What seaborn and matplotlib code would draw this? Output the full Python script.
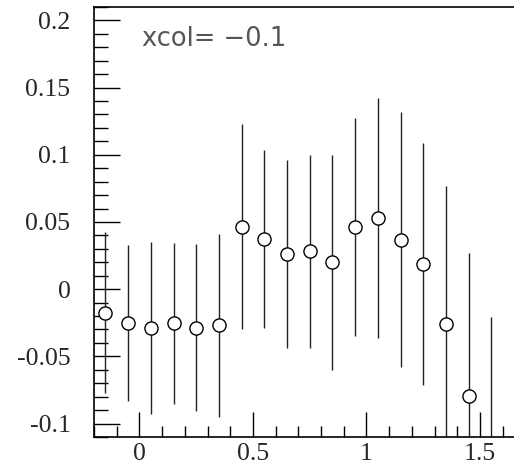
import matplotlib
matplotlib.use("Agg")
import matplotlib.pyplot as plt
import matplotlib.ticker as mticker
import seaborn as sns
import pandas as pd

# bin centres, values and errors
xcenters = [-0.15, -0.05, 0.05, 0.15, 0.25, 0.35, 0.45, 0.55, 0.65,
            0.75, 0.85, 0.95, 1.05, 1.15, 1.25, 1.35, 1.45, 1.55]
values = [-0.0175, -0.025, -0.029, -0.0254, -0.0287, -0.027, 0.0466, 0.0374, 0.0262,
          0.0282, 0.020, 0.0462, 0.0531, 0.0369, 0.0187, -0.0257, -0.0798, -0.13]
errors = [0.060, 0.058, 0.064, 0.060, 0.062, 0.068, 0.076, 0.066, 0.070,
          0.072, 0.080, 0.081, 0.0895, 0.095, 0.090, 0.1025, 0.107, 0.109]
label = "xcol= \u22120.1"

df = pd.DataFrame({"x": xcenters, "y": values, "err": errors})

sns.set_style("ticks")
plt.rcParams["font.family"] = ["Liberation Serif", "DejaVu Serif"]
plt.rcParams["axes.unicode_minus"] = False

fig = plt.figure(figsize=(5.14, 4.70), dpi=100)
ax = fig.add_axes([0.183, 0.0702, 0.817, 0.915])

ax.errorbar(df["x"], df["y"], yerr=df["err"], fmt="none", ecolor="#222222",
            elinewidth=1.0, capsize=0, zorder=2)
sns.scatterplot(data=df, x="x", y="y", ax=ax, marker="o", s=90,
                facecolor="white", edgecolor="black", linewidth=1.0, zorder=3)

ax.set_xlim(-0.2, 1.65)
ax.set_ylim(-0.11, 0.21)
ax.set_xlabel("")
ax.set_ylabel("")

ax.xaxis.set_major_locator(mticker.MultipleLocator(0.5))
ax.xaxis.set_minor_locator(mticker.MultipleLocator(0.1))
ax.yaxis.set_major_locator(mticker.MultipleLocator(0.05))
ax.yaxis.set_minor_locator(mticker.MultipleLocator(0.01))
ax.xaxis.set_major_formatter(mticker.FormatStrFormatter("%g"))
ax.yaxis.set_major_formatter(mticker.FuncFormatter(lambda v, p: "%g" % round(v, 3)))

ax.tick_params(which="both", direction="in", top=False, right=False,
               color="black", labelsize=18.5)
ax.tick_params(which="major", length=18, width=1.0)
ax.tick_params(which="minor", length=8, width=1.0)
ax.tick_params(axis="y", which="minor", length=10)
ax.tick_params(axis="y", which="major", length=19, pad=17)
ax.tick_params(axis="x", which="major", pad=4)

for s in ax.spines.values():
    s.set_linewidth(1.2)
    s.set_color("black")
ax.spines["right"].set_visible(False)

ax.text(0.012, 0.186, label, fontsize=18.5, color="#555555",
        family=["DejaVu Sans"], va="center", ha="left")

fig.savefig("out.png", dpi=100)
